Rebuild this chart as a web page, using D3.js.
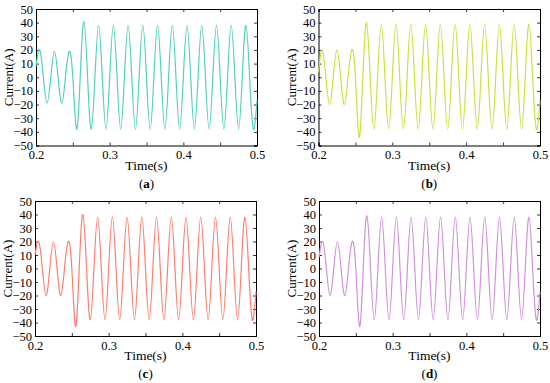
<!DOCTYPE html>
<html>
<head>
<meta charset="utf-8">
<script src="https://cdn.jsdelivr.net/npm/d3@7"></script>
<style>
body{margin:0;background:#fff;}
svg{display:block;}
svg text{font-family:"Liberation Serif","Times New Roman",serif;fill:#000;}
</style>
</head>
<body>
<svg id="chart" width="550" height="383"></svg>
<script>
// sample times (s): peaks, troughs and zero crossings
const tSec=[0.2,0.205,0.21,0.215,0.22,0.225,0.23,0.235,0.24,0.245,
0.25,0.255,0.26,0.265,0.27,0.275,0.28,0.285,0.29,0.295,
0.3,0.305,0.31,0.315,0.32,0.325,0.33,0.335,0.34,0.345,
0.35,0.355,0.36,0.365,0.37,0.375,0.38,0.385,0.39,0.395,
0.4,0.405,0.41,0.415,0.42,0.425,0.43,0.435,0.44,0.445,
0.45,0.455,0.46,0.465,0.47,0.475,0.48,0.485,0.49,0.495,0.5]

const curA=[8,20,0,-19,0,19,0,-19,0,19,0,-38,0,41,0,
-38,0,38,0,-38,0,38,0,-38,0,38,0,-38,0,38,0,-38,0,38,0,-38,0,38,0,-38,0,38,0,
-38,0,38,0,-38,0,38,0,-38,0,38,0,-38,0,38,0,-38,-17]
const curB=[4,20,0,-20,0,20,0,-20,0,20,0,-44,0,40,0,
-38,0,39,0,-38,0,39,0,-38,0,39,0,-38,0,39,0,-38,0,39,0,-38,0,39,0,-38,0,39,0,
-38,0,39,0,-38,0,39,0,-38,0,39,0,-38,0,39,0,-38,-17]
const curC=[10,20,0,-20,0,20,0,-20,0,20,0,-43,0,40,0,
-38,0,38,0,-38,0,38,0,-38,0,38,0,-38,0,38,0,-38,0,38,0,-38,0,38,0,-38,0,38,0,
-38,0,38,0,-38,0,38,0,-38,0,38,0,-38,0,38,0,-38,-17]
const curD=[8,20,0,-20,0,20,0,-20,0,20,0,-43,0,39,0,
-38,0,38,0,-38,0,38,0,-38,0,38,0,-38,0,38,0,-38,0,38,0,-38,0,38,0,-38,0,38,0,
-38,0,38,0,-38,0,38,0,-38,0,38,0,-38,0,38,0,-38,-17]

const xTickVals=[0.2,0.25,0.3,0.35,0.4,0.45,0.5]
const xLabels=[0.2,0.3,0.4,0.5]
const yTickVals=[-50,-40,-30,-20,-10,0,10,20,30,40,50]
const panelTags=["a","b","c","d"]
const colors=["#52d1bd","#c8e23e","#ff7d70","#cf92d8"]

const panels=[
  {x0:36,x1:257,y0:9,y1:145.5,data:curA},
  {x0:318.5,x1:540,y0:9,y1:145.5,data:curB},
  {x0:35,x1:256,y0:201,y1:336,data:curC},
  {x0:319,x1:540,y0:201,y1:336,data:curD}
]

const svg=d3.select("#chart")

panels.forEach((p,i)=>{
  const x=d3.scaleLinear().domain([0.2,0.5]).range([p.x0,p.x1])
  const y=d3.scaleLinear().domain([-50,50]).range([p.y1,p.y0])
  const g=svg.append("g")

  const fmtX=d=>xLabels.some(v=>Math.abs(v-d)<1e-9)?d3.format(".1f")(d):""
  const fmtY=d=>d<0?"\u2212"+Math.abs(d):String(d)

  g.append("g").attr("transform",`translate(0,${p.y1})`)
    .call(d3.axisBottom(x).tickValues(xTickVals).tickSize(-3).tickPadding(5).tickFormat(fmtX))
  g.append("g").attr("transform",`translate(0,${p.y0})`)
    .call(d3.axisTop(x).tickValues(xTickVals).tickSize(-3).tickFormat(""))
  g.append("g").attr("transform",`translate(${p.x0},0)`)
    .call(d3.axisLeft(y).tickValues(yTickVals).tickSize(-3).tickPadding(3).tickFormat(fmtY))
  g.append("g").attr("transform",`translate(${p.x1},0)`)
    .call(d3.axisRight(y).tickValues(yTickVals).tickSize(-3).tickFormat(""))

  g.selectAll(".domain").attr("stroke","#000").attr("stroke-width",1)
  g.selectAll(".tick line").attr("stroke","#000").attr("stroke-width",0.8)
  g.selectAll(".tick text").style("font-size","12.5px")

  const line=d3.line().x((d,j)=>x(tSec[j])).y(d=>y(d)).curve(d3.curveNatural)
  g.append("path").datum(p.data)
    .attr("d",line)
    .attr("fill","none")
    .attr("stroke",colors[i])
    .attr("stroke-width",1.2)

  g.append("text")
    .attr("transform",`translate(${p.x0-23},${(p.y0+p.y1)/2}) rotate(-90)`)
    .attr("text-anchor","middle")
    .style("font-size","13px")
    .text("Current(A)")

  g.append("text")
    .attr("x",(p.x0+p.x1)/2).attr("y",p.y1+24)
    .attr("text-anchor","middle")
    .style("font-size","13.5px")
    .text("Time(s)")

  const tag=g.append("text")
    .attr("x",(p.x0+p.x1)/2).attr("y",p.y1+42)
    .attr("text-anchor","middle")
    .style("font-size","13px")
  tag.append("tspan").text("(")
  tag.append("tspan").attr("font-weight","bold").text(panelTags[i])
  tag.append("tspan").text(")")
})
</script>
</body>
</html>
